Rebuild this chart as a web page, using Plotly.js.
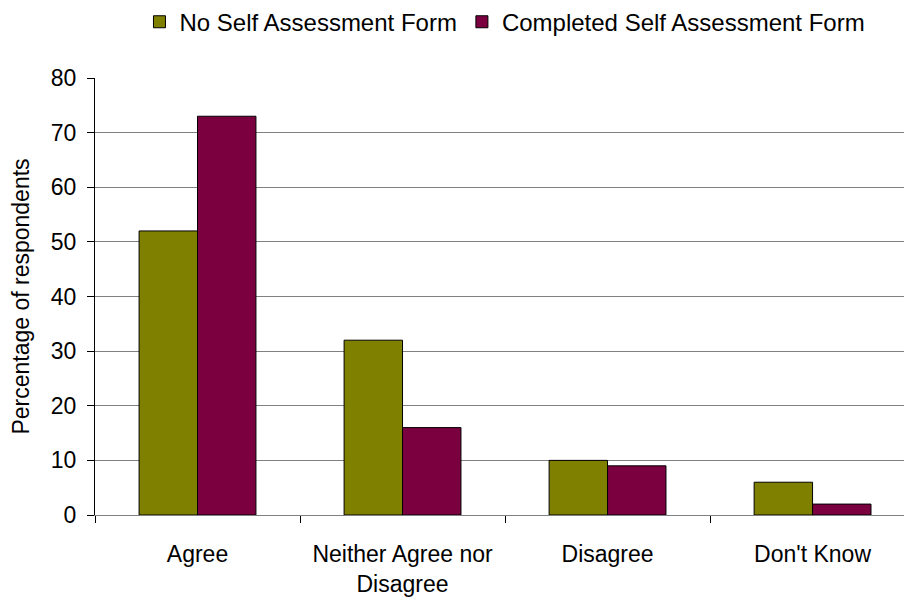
<!DOCTYPE html>
<html>
<head>
<meta charset="utf-8">
<script src="https://cdn.plot.ly/plotly-3.0.1.min.js"></script>
<style>html,body{margin:0;padding:0;background:#fff;}#chart{width:904px;height:599px;}</style>
</head>
<body>
<div id="chart"></div>
<script>
const categories = ["Agree", "Neither Agree nor<br>Disagree", "Disagree", "Don't Know"];
const noFormValues = [52, 32, 10, 6];
const completedFormValues = [73, 16, 9, 2];
const seriesNames = ["No Self Assessment Form", "Completed Self Assessment Form"];
const yTicks = [0, 10, 20, 30, 40, 50, 60, 70, 80];

const font = {family: "Liberation Sans, Arial, sans-serif", size: 23, color: "#000"};

const traces = [
  {type: "bar", x: categories, y: noFormValues, name: seriesNames[0],
   marker: {color: "#808000", line: {color: "#000", width: 1}}},
  {type: "bar", x: categories, y: completedFormValues, name: seriesNames[1],
   marker: {color: "#7a0040", line: {color: "#000", width: 1}}}
];

const layout = {
  width: 904, height: 599,
  margin: {l: 95, r: 0, t: 78, b: 84},
  paper_bgcolor: "#fff", plot_bgcolor: "#fff",
  font: font,
  barmode: "group", bargap: 0.43, bargroupgap: 0,
  showlegend: true,
  legend: {orientation: "h", x: 0.5586, xanchor: "center", y: 0.963, yanchor: "middle",
           xref: "container", yref: "container", font: {size: 24},
           itemwidth: 30, tracegroupgap: 0},
  xaxis: {type: "category", range: [-0.5, 3.446], autorange: false,
          tickson: "boundaries", ticks: "outside", ticklen: 7, tickcolor: "#000",
          showgrid: false, showline: true, linecolor: "#808080", linewidth: 1,
          tickfont: {size: 23}, ticklabelstandoff: 18, fixedrange: true},
  yaxis: {range: [0, 80], autorange: false, tickvals: yTicks,
          ticks: "outside", ticklen: 7, tickcolor: "#000",
          showgrid: true, gridcolor: "#808080", gridwidth: 1,
          showline: true, linecolor: "#000", linewidth: 1, zeroline: false,
          tickfont: {size: 23}, ticklabelstandoff: 6,
          title: {text: "Percentage of respondents", font: {size: 23}, standoff: 14}}
};

Plotly.newPlot("chart", traces, layout, {displayModeBar: false, staticPlot: true});
</script>
</body>
</html>
